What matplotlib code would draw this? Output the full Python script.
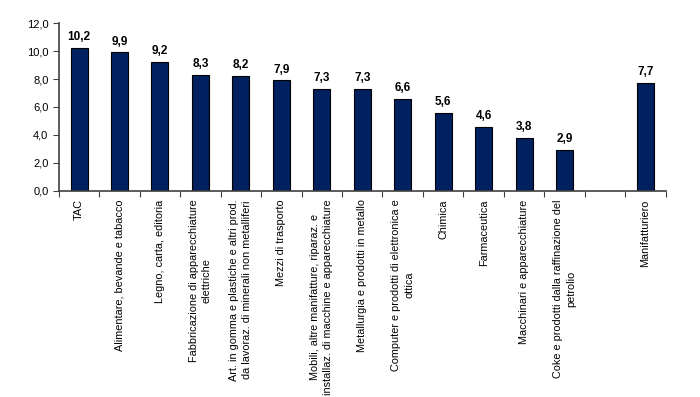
import numpy as np
import matplotlib.pyplot as plt
from matplotlib.ticker import FuncFormatter

categories = [
    "TAC",
    "Alimentare, bevande e tabacco",
    "Legno, carta, editoria",
    "Fabbricazione di apparecchiature\nelettriche",
    "Art. in gomma e plastiche e altri prod.\nda lavoraz. di minerali non metalliferi",
    "Mezzi di trasporto",
    "Mobili, altre manifatture, riparaz. e\ninstallaz. di macchine e apparecchiature",
    "Metallurgia e prodotti in metallo",
    "Computer e prodotti di elettronica e\nottica",
    "Chimica",
    "Farmaceutica",
    "Macchinari e apparecchiature",
    "Coke e prodotti dalla raffinazione del\npetrolio",
    "",
    "Manifatturiero",
]
values = [10.2, 9.9, 9.2, 8.3, 8.2, 7.9, 7.3, 7.3, 6.6, 5.6, 4.6, 3.8, 2.9, None, 7.7]

plt.rcParams["font.family"] = ["Liberation Sans", "DejaVu Sans"]

fig, ax = plt.subplots(figsize=(7, 3.97), dpi=100)
fig.subplots_adjust(left=0.084, right=0.951, top=0.942, bottom=0.519)

x = np.arange(len(categories))
for i, v in enumerate(values):
    if v is None:
        continue
    ax.bar(x[i], v, width=0.42, color="#002060", edgecolor="black", linewidth=0.8)
    ax.text(x[i], v + 0.35, f"{v:.1f}".replace(".", ","), ha="center", va="bottom",
            fontsize=8.5, fontweight="bold")

ax.set_xlim(-0.5, len(categories) - 0.5)
ax.set_ylim(0, 12)
ax.set_yticks(np.arange(0, 12.1, 2))
ax.yaxis.set_major_formatter(FuncFormatter(lambda v, p: f"{v:.1f}".replace(".", ",")))

ax.set_xticks(np.arange(len(categories) + 1) - 0.5, minor=False)
ax.set_xticklabels([])
ax.set_xticks(x, minor=True)
ax.set_xticklabels(categories, minor=True, rotation=90, ha="center", va="top",
                   multialignment="center", fontsize=7.8, linespacing=1.35)
ax.tick_params(axis="x", which="minor", length=0, pad=6)
ax.tick_params(axis="x", which="major", length=4, direction="out", color="#404040")
ax.tick_params(axis="y", length=4, direction="out", labelsize=8, color="#404040")

for side in ["top", "right"]:
    ax.spines[side].set_visible(False)
for side in ["left", "bottom"]:
    ax.spines[side].set_color("#404040")
    ax.spines[side].set_linewidth(1.2)

fig.savefig("out.png", dpi=100)
